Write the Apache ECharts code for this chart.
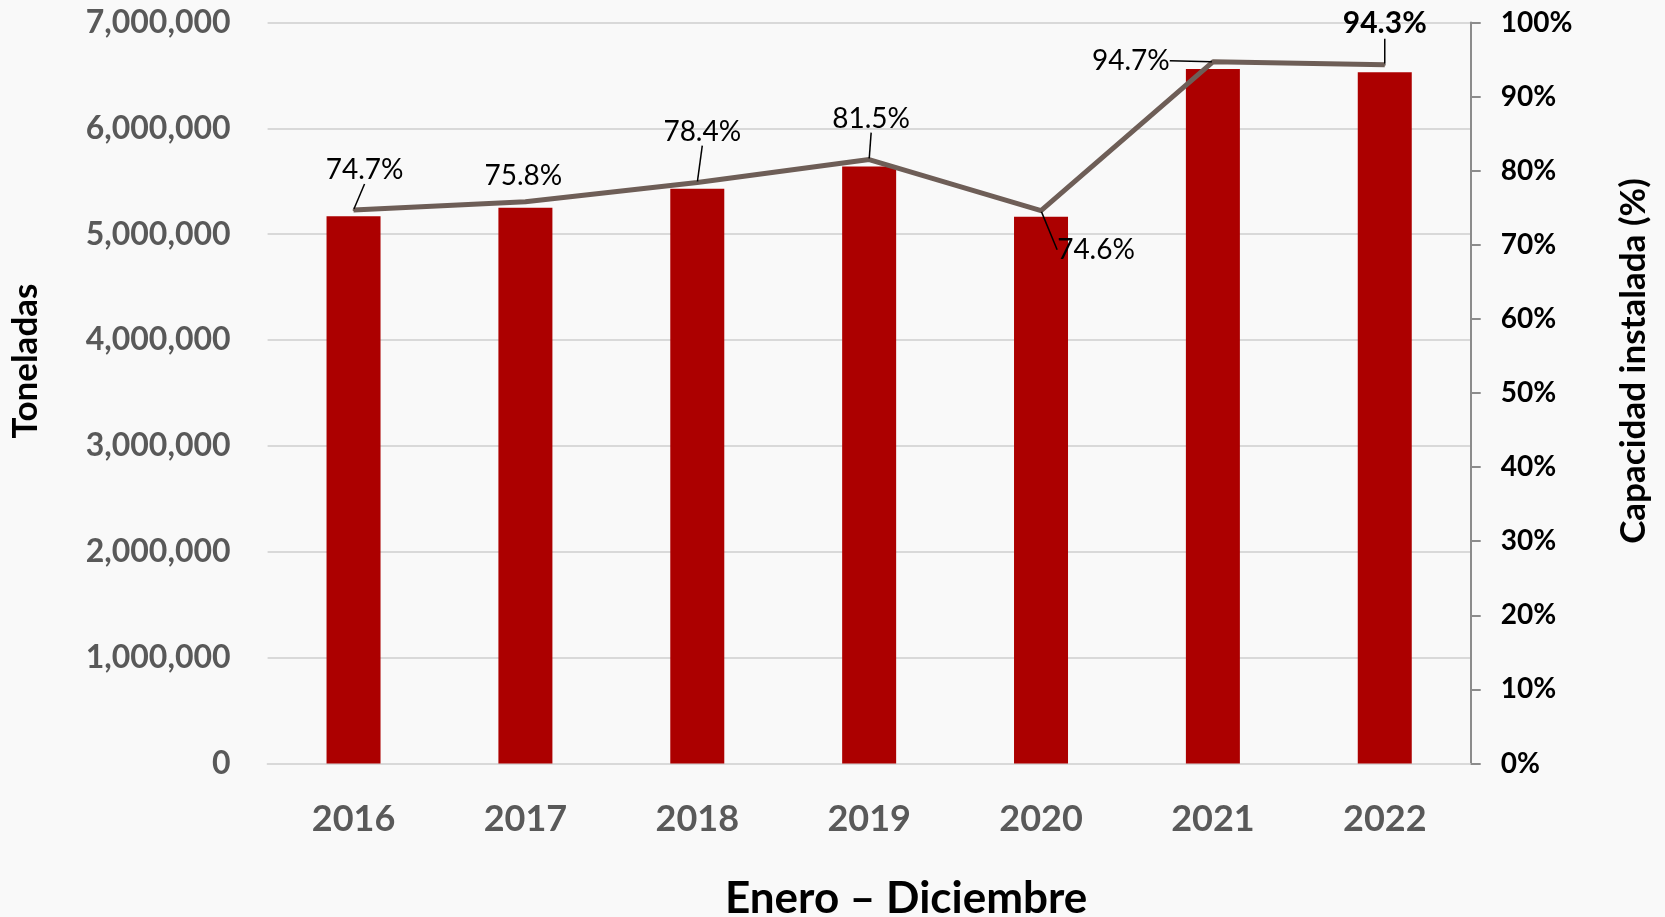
<!DOCTYPE html>
<html>
<head>
<meta charset="utf-8">
<script src="https://cdn.jsdelivr.net/npm/echarts@6/dist/echarts.min.js"></script>
<style>
  html, body { margin: 0; padding: 0; background: #f9f9f9; }
  #chart { width: 1665px; height: 917px; }
</style>
</head>
<body>
<div id="chart"></div>
<script>
// ---- Data ----
const years = ['2016', '2017', '2018', '2019', '2020', '2021', '2022'];
const toneladas = [5170000, 5250000, 5430000, 5640000, 5165000, 6560000, 6530000];
const capacidad = [74.7, 75.8, 78.4, 81.5, 74.6, 94.7, 94.3];
const leftTicks = { min: 0, max: 7000000, interval: 1000000 };
const rightTicks = { min: 0, max: 100, interval: 10 };

// ---- Label placement (styling, offsets from each point) ----
const labelOffsets = [[11, -40], [-2, -26], [5, -51], [2, -41], [55, 39], [-82, -1], [0, -41]];
const showLeader = [true, false, true, true, true, true, true];

const FONT = 'Lato, "Open Sans", sans-serif';
const chart = echarts.init(document.getElementById('chart'));

const lineData = capacidad.map((v, i) => {
  const item = { value: v, labelLine: { show: showLeader[i] } };
  if (i === capacidad.length - 1) {
    item.label = { fontWeight: 'bold', fontSize: 30 };
  }
  return item;
});

chart.setOption({
  backgroundColor: '#f9f9f9',
  animation: false,
  grid: { left: 267.6, right: 194.3, top: 22.5, bottom: 153.5, containLabel: false, outerBoundsMode: 'none' },
  xAxis: {
    type: 'category',
    data: years,
    name: 'Enero – Diciembre',
    nameLocation: 'middle',
    nameGap: 113,
    nameTextStyle: { fontFamily: FONT, fontWeight: 'bold', fontSize: 44, color: '#000', padding: [0, 0, 0, 74] },
    axisLine: { show: true, lineStyle: { color: '#d9d9d9', width: 2 } },
    axisTick: { show: false },
    axisLabel: { fontFamily: FONT, fontWeight: 'bold', fontSize: 36, color: '#595959', margin: 38 }
  },
  yAxis: [
    {
      type: 'value',
      position: 'left',
      min: leftTicks.min, max: leftTicks.max, interval: leftTicks.interval,
      name: 'Toneladas',
      nameLocation: 'middle',
      nameRotate: 90,
      nameGap: 224,
      nameTextStyle: { fontFamily: FONT, fontWeight: 'bold', fontSize: 35, color: '#000', padding: [0, 0, 0, 64] },
      axisLine: { show: false },
      axisTick: { show: false },
      splitLine: { show: true, lineStyle: { color: '#d9d9d9', width: 2 } },
      axisLabel: {
        fontFamily: FONT, fontWeight: 'bold', fontSize: 32, color: '#595959', margin: 37,
        formatter: v => v.toLocaleString('en-US')
      }
    },
    {
      type: 'value',
      position: 'right',
      min: rightTicks.min, max: rightTicks.max, interval: rightTicks.interval,
      name: 'Capacidad instalada (%)',
      nameLocation: 'middle',
      nameRotate: 90,
      nameGap: 146,
      nameTextStyle: { fontFamily: FONT, fontWeight: 'bold', fontSize: 35, color: '#000', padding: [0, 0, 0, 64] },
      axisLine: { show: true, lineStyle: { color: '#8c8c8c', width: 2 } },
      axisTick: { show: true, inside: false, length: 10, lineStyle: { color: '#8c8c8c', width: 2 } },
      splitLine: { show: false },
      axisLabel: {
        fontFamily: FONT, fontWeight: 'bold', fontSize: 28, color: '#000', margin: 30,
        formatter: '{value}%'
      }
    }
  ],
  series: [
    {
      type: 'bar',
      yAxisIndex: 0,
      data: toneladas,
      barWidth: 54,
      itemStyle: { color: '#ac0000' },
      z: 2
    },
    {
      type: 'line',
      yAxisIndex: 1,
      data: lineData,
      symbol: 'circle',
      symbolSize: 2,
      showSymbol: true,
      lineStyle: { color: '#6e5e57', width: 5 },
      itemStyle: { color: '#6e5e57' },
      z: 5,
      label: {
        show: true,
        position: 'inside',
        fontFamily: FONT,
        fontSize: 28,
        color: '#000',
        formatter: p => p.value.toFixed(1) + '%'
      },
      labelLine: { show: true, lineStyle: { color: '#000', width: 1.5 } },
      labelLayout: function (params) {
        const o = labelOffsets[params.dataIndex];
        return { dx: o[0], dy: o[1] };
      }
    }
  ]
});
</script>
</body>
</html>
